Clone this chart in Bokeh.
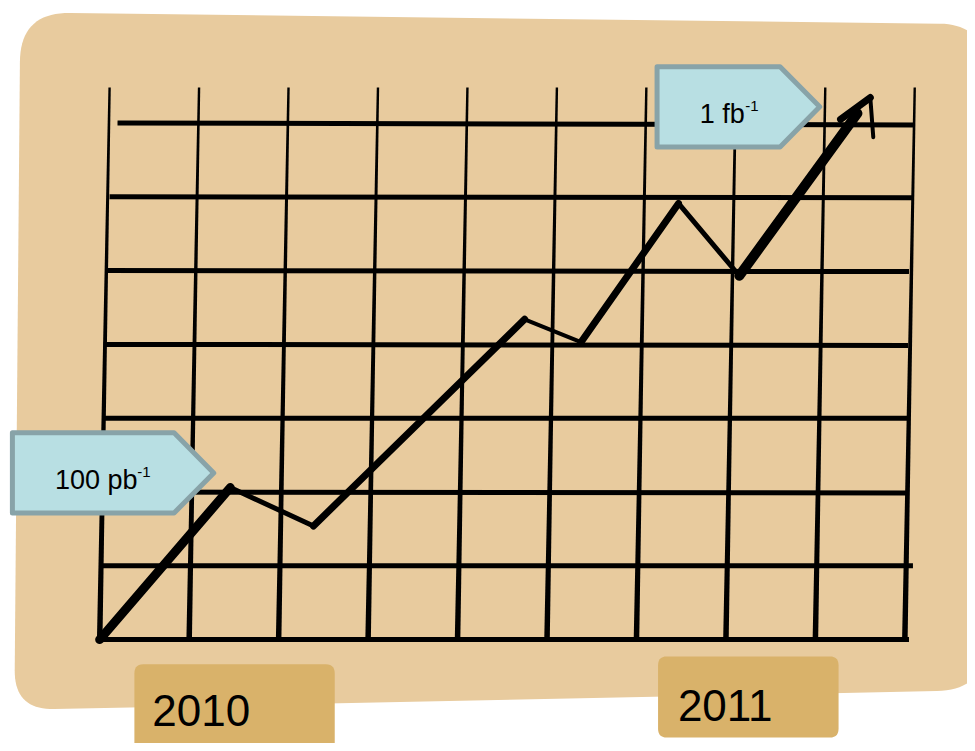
import numpy as np
from bokeh.plotting import figure
from bokeh.models import Range1d, ColumnDataSource
from bokeh.core.properties import value
from bokeh.embed import file_html
from bokeh.resources import INLINE

# ---------------- data ----------------
grid_cols = list(range(10))          # vertical grid lines (column index)
grid_rows = list(range(8))           # horizontal grid lines (row index)
line_x = [0.0, 1.46, 2.39, 4.75, 5.38, 6.47, 7.15, 8.47]
line_y = [0.0, 2.06, 1.54, 4.34, 4.03, 5.91, 4.93, 7.13]
year_labels = ["2010", "2011"]
milestone_main = ["100 pb", "1 fb"]
milestone_sup = ["-1", "-1"]

# ---------------- layout (reference px of grid origin / unit sizes) ----------------
X0, DX = 100.0, 90.2
Y0, DY = 646.0, 74.6
REF_W, REF_H = 975, 751
W, H = 967, 743


def X(px):
    return (np.asarray(px, dtype=float) - X0) / DX


def Y(py):
    return (Y0 - np.asarray(py, dtype=float)) / DY


def rounded(pts, radii, n=14):
    out = []
    N = len(pts)
    for i in range(N):
        p = np.array(pts[i], float)
        prev = np.array(pts[i - 1], float)
        nxt = np.array(pts[(i + 1) % N], float)
        r = radii[i]
        if r == 0:
            out.append(p)
            continue
        a = p + (prev - p) / np.linalg.norm(prev - p) * r
        b = p + (nxt - p) / np.linalg.norm(nxt - p) * r
        for t in np.linspace(0, 1, n):
            out.append((1 - t) ** 2 * a + 2 * (1 - t) * t * p + t ** 2 * b)
    arr = np.array(out)
    return list(X(arr[:, 0])), list(Y(arr[:, 1]))


TAN = "#E8CB9E"
GOLD = "#D9B26A"
BLUE = "#B8DFE3"
BLUE_EDGE = "#88A3A8"
FONT = value("Liberation Sans")

p = figure(width=W, height=H, x_range=Range1d(float(X(0)), float(X(REF_W))),
           y_range=Range1d(float(Y(REF_H)), float(Y(0))),
           x_axis_type=None, y_axis_type=None, toolbar_location=None,
           output_backend="svg", min_border=0)
p.outline_line_color = None
p.background_fill_color = "white"
p.border_fill_color = "white"

# background board
bx, by = rounded([(20, 12), (992, 24), (994, 697), (14, 717)], [50, 45, 50, 40], n=20)
p.patch(bx, by, fill_color=TAN, line_color=None)

# year tabs
for (l, t, r, b) in [(135, 671, 337, 770), (663, 663, 845, 745)]:
    xs, ys = rounded([(l, t), (r, t), (r, b), (l, b)], [9, 9, 9, 9], n=8)
    p.patch(xs, ys, fill_color=GOLD, line_color=None)

p.text(x=list(X([153, 683])), y=list(Y([718, 713])), text=year_labels,
       text_font=FONT, text_font_size="44px",
       text_color="black", text_baseline="alphabetic", text_align="left")

# grid: horizontal lines (hand-drawn offsets, px)
h_left = [98, 100, 101, 103, 104, 106, 110, 118]
h_right = [916, 920, 915, 916, 915, 916, 920, 922]
h_tilt = [0, 0, 1, 0, 1, 1, 1, 2]
hx0, hx1, hy0, hy1 = [], [], [], []
for i, r in enumerate(grid_rows):
    hx0.append(float(X(h_left[i])))
    hx1.append(float(X(h_right[i])))
    hy0.append(r)
    hy1.append(r - h_tilt[i] / DY)
p.segment(x0=hx0, y0=hy0, x1=hx1, y1=hy1, line_color="black", line_width=5,
          line_cap="butt")

# grid: vertical lines as tapered strokes (top leans ~10px right)
top_r = float(Y(88))
bot_r = float(Y(648))
vxs, vys = [], []
for c in grid_cols:
    xb = c
    xt = c + 10 / DX
    wt, wb = 1.2 / DX, 2.8 / DX
    vxs.append([xt - wt, xt + wt, xb + wb, xb - wb])
    vys.append([top_r, top_r, bot_r, bot_r])
p.patches(vxs, vys, fill_color="black", line_color=None)

# the luminosity line
seg_w = [9, 5, 7, 4, 7, 5, 10]
src = ColumnDataSource(dict(x0=line_x[:-1], y0=line_y[:-1], x1=line_x[1:], y1=line_y[1:], w=seg_w))
p.segment(x0="x0", y0="y0", x1="x1", y1="y1", line_width="w", line_color="black",
          line_cap="round", source=src)

# arrow head at the end of the line (hand-drawn cap)
tx, ty = line_x[-1], line_y[-1]
p.segment(x0=[tx - 17 / DX, tx + 13 / DX], y0=[ty - 6 / DY, ty + 16 / DY],
          x1=[tx + 13 / DX, tx + 16 / DX], y1=[ty + 16 / DY, ty - 24 / DY],
          line_color="black", line_width=[7, 4], line_cap="round")

# milestone tags
for (l, t, s, tip, b) in [(12, 437, 175, 215, 518), (662, 67, 786, 826, 148)]:
    xs = list(X([l, s, tip, s, l]))
    ys = list(Y([t, t, (t + b) / 2, b, b]))
    p.patch(xs, ys, fill_color=BLUE, line_color=BLUE_EDGE, line_width=5, line_join="round")

p.text(x=list(X([55, 705])), y=list(Y([485, 115])), text=milestone_main,
       text_font=FONT, text_font_size="27px",
       text_color="black", text_baseline="alphabetic", text_align="left")
p.text(x=list(X([138, 751])), y=list(Y([477, 107])), text=milestone_sup,
       text_font=FONT, text_font_size="15px",
       text_color="black", text_baseline="alphabetic", text_align="left")

open("out.html", "w").write(file_html(p, INLINE))
